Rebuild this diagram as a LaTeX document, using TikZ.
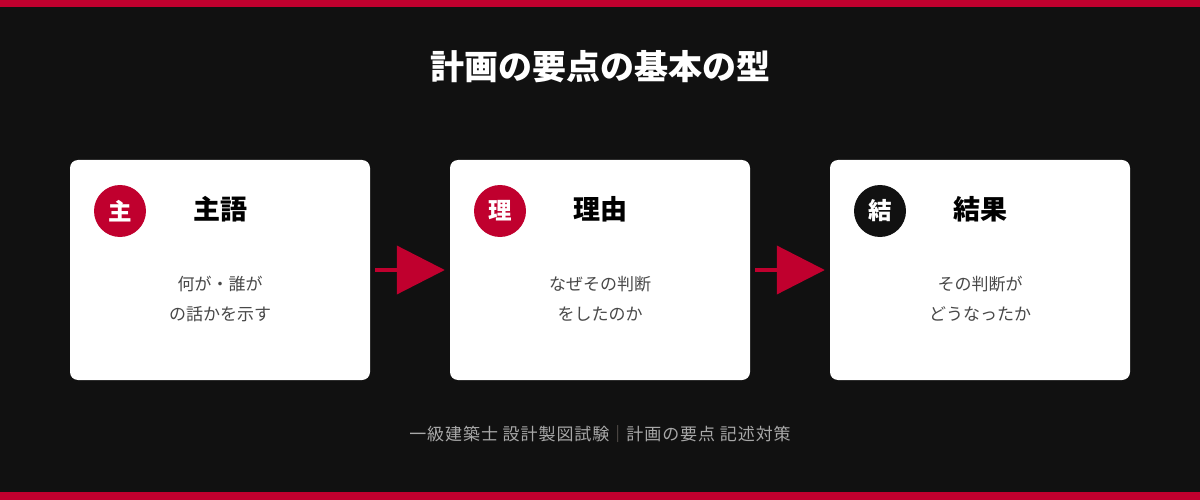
\documentclass[tikz,border=0pt]{standalone}
\usepackage{fontspec}
\setmainfont{Noto Sans CJK JP}
\usetikzlibrary{arrows.meta}
\definecolor{bg}{HTML}{111111}
\definecolor{accent}{HTML}{C0002E}
\definecolor{bodygray}{HTML}{484848}
\definecolor{footgray}{HTML}{A8A8A8}
\definecolor{sepgray}{HTML}{6E6660}
\tikzset{
  card/.style={fill=white, rounded corners=8pt, minimum width=300pt, minimum height=220pt, inner sep=0pt},
  badge/.style={circle, minimum size=52pt, inner sep=0pt, text=white, font=\fontsize{23.5}{23.5}\selectfont\bfseries},
  heading/.style={text=black, font=\fontsize{27}{27}\selectfont\bfseries, inner sep=0pt},
  bodytext/.style={text=bodygray, font=\fontsize{17}{30}\selectfont, align=center, inner sep=0pt},
  flow/.style={draw=accent, line width=4pt, -{Triangle[width=48pt,length=48pt]}},
}
\begin{document}
\begin{tikzpicture}[x=1pt,y=-1pt]
\fill[bg] (0,0) rectangle (1200,500);
\useasboundingbox (0,0) rectangle (1200,500);
\fill[accent] (0,0) rectangle (1200,7);
\fill[accent] (0,492) rectangle (1200,500);
\node[text=white, font=\fontsize{34}{34}\selectfont\bfseries, inner sep=0pt] (title) at (600,67) {計画の要点の基本の型};
% cards
\node[card] (c1) at (220,270) {};
\node[card] (c2) at (600,270) {};
\node[card] (c3) at (980,270) {};
% card 1
\node[badge, fill=accent] (b1) at (120,211) {主};
\node[heading] (h1) at (220,209) {主語};
\node[bodytext] (t1) at (220,299) {何が・誰が\\の話かを示す};
% card 2
\node[badge, fill=accent] (b2) at (500,211) {理};
\node[heading] (h2) at (600,209) {理由};
\node[bodytext] (t2) at (600,299) {なぜその判断\\をしたのか};
% card 3
\node[badge, fill=bg] (b3) at (880,211) {結};
\node[heading] (h3) at (980,209) {結果};
\node[bodytext] (t3) at (980,299) {その判断が\\どうなったか};
% arrows
\draw[flow] ([xshift=5pt]c1.east) -- ([xshift=-5pt]c2.west);
\draw[flow] ([xshift=5pt]c2.east) -- ([xshift=-5pt]c3.west);
% footer
\node[text=footgray, font=\fontsize{17}{17}\selectfont\addfontfeature{LetterSpace=5.5}, inner sep=0pt] (foot) at (600,434) {一級建築士 設計製図試験{\color{sepgray}｜}計画の要点 記述対策};
\end{tikzpicture}
\end{document}
